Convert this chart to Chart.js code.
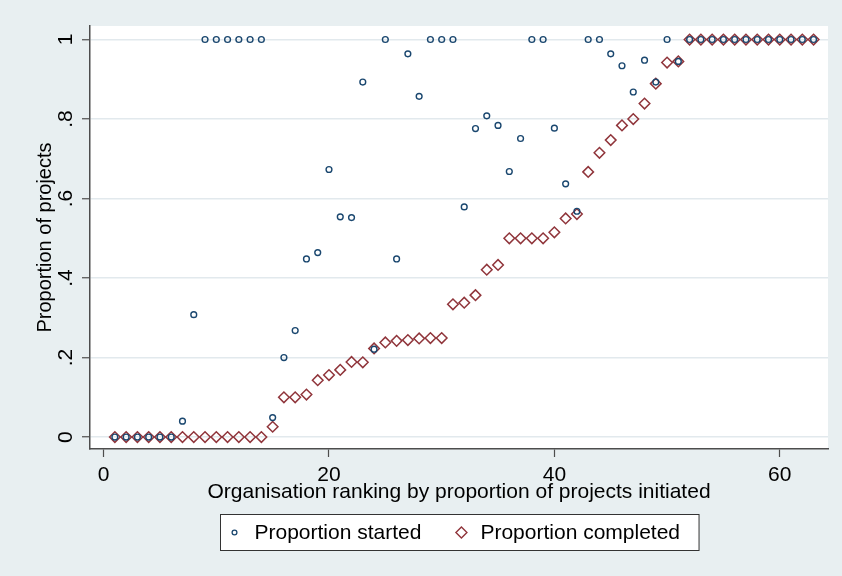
<!DOCTYPE html>
<html>
<head>
<meta charset="utf-8">
<title>Proportion of projects started and completed</title>
<script src="https://cdn.jsdelivr.net/npm/chart.js@4/dist/chart.umd.min.js"></script>
<style>
  html, body { margin: 0; padding: 0; background: #e8eff1; }
  #wrap { position: relative; width: 842px; height: 576px; }
</style>
</head>
<body>
<div id="wrap"><canvas id="chart"></canvas></div>
<script>
// Organisation ranking (x) by proportion of projects initiated
const ranks = [
   1,  2,  3,  4,  5,  6,  7,  8,  9, 10, 11, 12, 13, 14, 15, 16,
  17, 18, 19, 20, 21, 22, 23, 24, 25, 26, 27, 28, 29, 30, 31, 32,
  33, 34, 35, 36, 37, 38, 39, 40, 41, 42, 43, 44, 45, 46, 47, 48,
  49, 50, 51, 52, 53, 54, 55, 56, 57, 58, 59, 60, 61, 62, 63
];

// Proportion of projects started, per organisation
const propStarted = [
  0, 0, 0, 0, 0, 0, 0.04, 0.308, 1, 1, 1, 1, 1, 1, 0.049, 0.2,
  0.268, 0.448, 0.464, 0.673, 0.554, 0.552, 0.893, 0.221, 1, 0.448, 0.964, 0.857, 1, 1, 1, 0.579,
  0.776, 0.808, 0.784, 0.668, 0.751, 1, 1, 0.777, 0.637, 0.568, 1, 1, 0.964, 0.934, 0.868, 0.948,
  0.893, 1, 0.945, 1, 1, 1, 1, 1, 1, 1, 1, 1, 1, 1, 1
];

// Proportion of projects completed, per organisation
const propCompleted = [
  0, 0, 0, 0, 0, 0, 0, 0, 0, 0, 0, 0, 0, 0, 0.026, 0.1,
  0.1, 0.107, 0.143, 0.156, 0.169, 0.189, 0.188, 0.223, 0.238, 0.242, 0.244, 0.248, 0.249, 0.249, 0.334, 0.338,
  0.357, 0.421, 0.433, 0.5, 0.5, 0.5, 0.5, 0.515, 0.55, 0.561, 0.667, 0.715, 0.747, 0.784, 0.8, 0.839,
  0.889, 0.942, 0.945, 1, 1, 1, 1, 1, 1, 1, 1, 1, 1, 1, 1
];

// Axis ticks
const xTickValues = [0, 20, 40, 60];
const yTickValues = [0, 0.2, 0.4, 0.6, 0.8, 1];
const yTickLabels = ['0', '.2', '.4', '.6', '.8', '1'];

const seriesNames = ['Proportion started', 'Proportion completed'];

const NAVY = '#1a476f';
const MAROON = '#90353b';
const FONT = "'Liberation Sans', Arial, Helvetica, sans-serif";

const toPoints = (ys) => ranks.map((r, i) => ({ x: r, y: ys[i] }));

// White plot region on the tinted graph background
const plotRegion = {
  id: 'plotRegion',
  beforeDraw(chart) {
    const { ctx, chartArea: a } = chart;
    ctx.save();
    ctx.fillStyle = '#ffffff';
    ctx.fillRect(a.left, a.top, a.right - a.left, a.bottom - a.top);
    ctx.restore();
  }
};

// Boxed legend centred under the x-axis title
const boxedLegend = {
  id: 'boxedLegend',
  afterDraw(chart) {
    const { ctx, chartArea: a } = chart;
    const ds = chart.data.datasets;
    ctx.save();
    ctx.font = '21px ' + FONT;
    const w1 = ctx.measureText(ds[0].label).width;
    const w2 = ctx.measureText(ds[1].label).width;
    const total = 34 + w1 + 40 + 19 + w2 + 19;
    const left = Math.round((a.left + a.right) / 2 - total / 2) + 0.5;
    const top = 514.5, h = 36;
    const cy = top + h / 2;
    ctx.fillStyle = '#ffffff';
    ctx.fillRect(left, top, total, h);
    ctx.strokeStyle = '#333333';
    ctx.lineWidth = 1;
    ctx.strokeRect(left, top, total, h);

    // circle marker
    const c1 = left + 14;
    ctx.beginPath();
    ctx.arc(c1, cy, 2.4, 0, Math.PI * 2);
    ctx.strokeStyle = ds[0].borderColor;
    ctx.lineWidth = 1.3;
    ctx.stroke();

    ctx.fillStyle = '#000000';
    ctx.textBaseline = 'middle';
    ctx.textAlign = 'left';
    const t1 = left + 34;
    ctx.fillText(ds[0].label, t1, cy + 1);

    // diamond marker
    const c2 = t1 + w1 + 40;
    const r = 5.5;
    ctx.beginPath();
    ctx.moveTo(c2, cy - r);
    ctx.lineTo(c2 + r, cy);
    ctx.lineTo(c2, cy + r);
    ctx.lineTo(c2 - r, cy);
    ctx.closePath();
    ctx.strokeStyle = ds[1].borderColor;
    ctx.lineWidth = 1.4;
    ctx.stroke();

    ctx.fillStyle = '#000000';
    ctx.fillText(ds[1].label, c2 + 19, cy + 1);
    ctx.restore();
  }
};

new Chart(document.getElementById('chart'), {
  type: 'scatter',
  data: {
    datasets: [
      {
        label: seriesNames[0],
        data: toPoints(propStarted),
        pointStyle: 'circle',
        pointRadius: 2.9,
        pointBorderWidth: 1.4,
        borderColor: NAVY,
        backgroundColor: 'rgba(0,0,0,0)',
        showLine: false
      },
      {
        label: seriesNames[1],
        data: toPoints(propCompleted),
        pointStyle: 'rectRot',
        pointRadius: 5.3,
        pointBorderWidth: 1.5,
        borderColor: MAROON,
        backgroundColor: 'rgba(0,0,0,0)',
        showLine: false
      }
    ]
  },
  options: {
    responsive: true,
    maintainAspectRatio: false,
    devicePixelRatio: 1,
    animation: false,
    events: [],
    layout: { padding: { top: 26, right: 14, bottom: 67, left: 0 } },
    plugins: {
      legend: { display: false },
      tooltip: { enabled: false }
    },
    scales: {
      x: {
        type: 'linear',
        min: -1.207,
        max: 64.28,
        afterBuildTicks(scale) { scale.ticks = xTickValues.map(v => ({ value: v })); },
        afterFit(scale) { scale.height = 60; },
        ticks: {
          color: '#000000',
          font: { family: FONT, size: 21 },
          padding: 6,
          maxRotation: 0,
          minRotation: 0
        },
        grid: {
          display: true,
          drawOnChartArea: false,
          drawTicks: true,
          tickLength: 8,
          tickColor: '#4d4d4d',
          tickWidth: 1.2
        },
        border: { display: true, color: '#4d4d4d', width: 1.5 },
        title: {
          display: true,
          text: 'Organisation ranking by proportion of projects initiated',
          color: '#000000',
          font: { family: FONT, size: 21 },
          padding: { top: 0, bottom: 4 }
        }
      },
      y: {
        type: 'linear',
        min: -0.03,
        max: 1.034,
        afterBuildTicks(scale) { scale.ticks = yTickValues.map(v => ({ value: v })); },
        afterFit(scale) { scale.width = 90; },
        ticks: {
          color: '#000000',
          font: { family: FONT, size: 21 },
          padding: 7,
          minRotation: 90,
          maxRotation: 90,
          crossAlign: 'center',
          callback(value) {
            const i = yTickValues.findIndex(v => Math.abs(v - value) < 1e-9);
            return i >= 0 ? yTickLabels[i] : '';
          }
        },
        grid: {
          display: true,
          drawOnChartArea: true,
          drawTicks: true,
          tickLength: 8,
          color: '#e2e9ed',
          lineWidth: 1.5,
          tickColor: '#4d4d4d',
          tickWidth: 1.2
        },
        border: { display: true, color: '#4d4d4d', width: 1.5 },
        title: {
          display: true,
          text: 'Proportion of projects',
          color: '#000000',
          font: { family: FONT, size: 20 },
          padding: { top: 33, bottom: 0 }
        }
      }
    }
  },
  plugins: [plotRegion, boxedLegend]
});
</script>
</body>
</html>
